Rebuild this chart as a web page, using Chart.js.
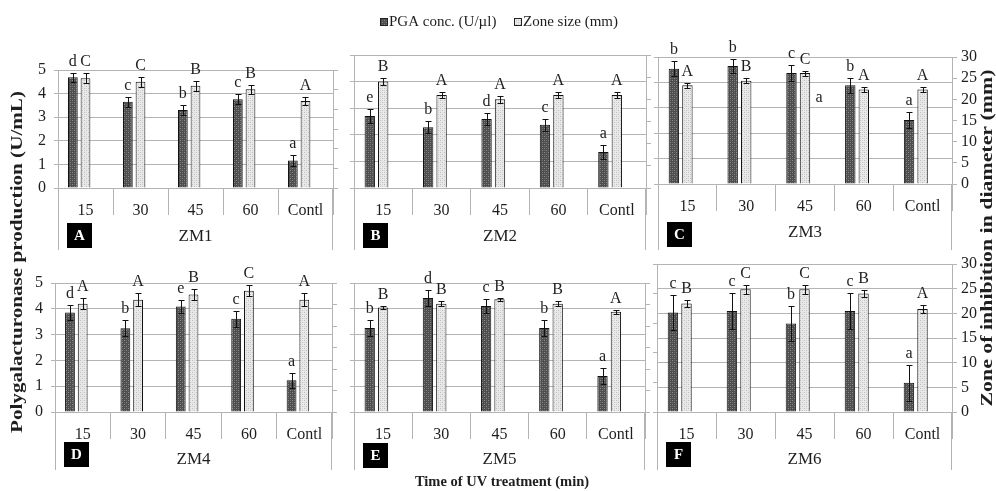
<!DOCTYPE html>
<html>
<head>
<meta charset="utf-8">
<script src="https://cdn.jsdelivr.net/npm/chart.js@4"></script>
<style>
  html, body { margin: 0; padding: 0; background: #fff; }
  #wrap { position: relative; width: 996px; height: 491px; }
  #wrap canvas { position: absolute; left: 0; top: 0; }
</style>
</head>
<body>
<div id="wrap"></div>
<script>
// ---- data (one row per strain ZM1..ZM6) ----
const categories = ['15', '30', '45', '60', 'Contl'];
const panelNames = ['ZM1', 'ZM2', 'ZM3', 'ZM4', 'ZM5', 'ZM6'];
const panelTags = ['A', 'B', 'C', 'D', 'E', 'F'];

// PGA conc. (U/ml), left axis 0-5
const pgaValues = [
  [4.69, 3.65, 3.31, 3.76, 1.17],
  [2.71, 2.28, 2.59, 2.38, 1.35],
  [4.54, 4.65, 4.37, 3.89, 2.52],
  [3.86, 3.25, 4.09, 3.61, 1.23],
  [3.26, 4.42, 4.11, 3.26, 1.40],
  [3.36, 3.41, 2.99, 3.41, 0.99]
];
const pgaErrors = [
  [0.20, 0.22, 0.21, 0.22, 0.24],
  [0.25, 0.23, 0.23, 0.23, 0.25],
  [0.29, 0.29, 0.30, 0.30, 0.30],
  [0.30, 0.30, 0.26, 0.31, 0.30],
  [0.30, 0.30, 0.28, 0.30, 0.31],
  [0.59, 0.60, 0.59, 0.60, 0.61]
];
const pgaLetters = [
  ['d', 'c', 'b', 'c', 'a'],
  ['e', 'b', 'd', 'c', 'a'],
  ['b', 'b', 'c', 'b', 'a'],
  ['d', 'b', 'e', 'c', 'a'],
  ['b', 'd', 'c', 'b', 'a'],
  ['c', 'c', 'b', 'c', 'a']
];

// Zone size (mm), right axis 0-30
const zoneValues = [
  [27.9, 27.0, 26.0, 25.1, 22.1],
  [24.0, 21.0, 20.0, 21.0, 21.0],
  [23.3, 24.4, 26.2, 22.3, 22.3],
  [25.2, 26.1, 27.3, 28.2, 26.1],
  [24.3, 25.2, 26.2, 25.2, 23.3],
  [22.0, 24.9, 24.9, 24.0, 20.9]
];
const zoneErrors = [
  [1.3, 1.2, 1.3, 1.2, 1.1],
  [0.75, 0.75, 0.75, 0.75, 0.75],
  [0.55, 0.55, 0.6, 0.5, 0.5],
  [1.3, 1.5, 1.3, 1.25, 1.5],
  [0.3, 0.5, 0.4, 0.5, 0.5],
  [0.7, 0.9, 0.9, 0.7, 0.8]
];
const zoneLetters = [
  ['C', 'C', 'B', 'B', 'A'],
  ['B', 'A', 'A', 'A', 'A'],
  ['A', 'B', 'C', 'A', 'A'],
  ['A', 'A', 'B', 'C', 'A'],
  ['B', 'B', 'B', 'B', 'A'],
  ['B', 'C', 'C', 'B', 'A']
];
// stray letter in ZM3 next to the 45 group (zone scale)
const strayLetters = [{ panel: 2, index: 2, text: 'a', value: 20.5 }];

// ---- layout ----
const W = 996, H = 491;
const AXIS_W = 40, AXIS_H = 40;
const panels = [
  { l: 58,  r: 333, t: 70,  b: 188, foot: 250, leftLabels: true,  rightLabels: false, grid: 'y',  tagDy: 35 },
  { l: 354, r: 646, t: 55,  b: 188, foot: 250, leftLabels: false, rightLabels: false, grid: 'y',  tagDy: 35 },
  { l: 658, r: 952, t: 57,  b: 184, foot: 250, leftLabels: false, rightLabels: true,  grid: 'y',  tagDy: 38 },
  { l: 55,  r: 332, t: 283, b: 412, foot: 470, leftLabels: true,  rightLabels: false, grid: 'y',  tagDy: 30 },
  { l: 354, r: 645, t: 283, b: 412, foot: 470, leftLabels: false, rightLabels: false, grid: 'y',  tagDy: 31 },
  { l: 657, r: 952, t: 264, b: 412, foot: 470, leftLabels: false, rightLabels: true,  grid: 'y1', tagDy: 30 }
];

const serif = '"Liberation Serif", "Times New Roman", serif';
const gridColor = '#b4b4b4';
const textColor = '#1e1e1e';

function makePattern(base, dot1, dot2) {
  const c = document.createElement('canvas');
  c.width = 4; c.height = 4;
  const g = c.getContext('2d');
  g.fillStyle = base; g.fillRect(0, 0, 4, 4);
  g.fillStyle = dot1; g.fillRect(0, 0, 1, 1); g.fillRect(2, 2, 1, 1);
  g.fillStyle = dot2; g.fillRect(2, 0, 1, 1); g.fillRect(0, 2, 1, 1);
  return g.createPattern(c, 'repeat');
}
const darkFill = makePattern('#4e4e4e', '#8c8c8c', '#6a6a6a');
const lightFill = makePattern('#e9e9e9', '#bdbdbd', '#d6d6d6');

// error bars + significance letters
const errorBars = {
  id: 'errorBars',
  afterDatasetsDraw(chart) {
    const ctx = chart.ctx;
    chart.data.datasets.forEach((ds, di) => {
      if (!ds.errors) return;
      const meta = chart.getDatasetMeta(di);
      const scale = chart.scales[ds.yAxisID];
      meta.data.forEach((bar, k) => {
        const v = ds.data[k], e = ds.errors[k];
        const x = Math.round(bar.x) + 0.5;
        const yHi = Math.round(scale.getPixelForValue(v + e)) + 0.5;
        const yLo = Math.round(scale.getPixelForValue(v - e)) + 0.5;
        ctx.save();
        ctx.strokeStyle = '#111';
        ctx.lineWidth = 1;
        ctx.beginPath();
        ctx.moveTo(x, yHi); ctx.lineTo(x, yLo);
        ctx.moveTo(x - 3, yHi); ctx.lineTo(x + 3, yHi);
        ctx.moveTo(x - 3, yLo); ctx.lineTo(x + 3, yLo);
        ctx.stroke();
        ctx.fillStyle = textColor;
        ctx.font = '16px ' + serif;
        ctx.textAlign = 'center';
        ctx.textBaseline = 'alphabetic';
        ctx.fillText(ds.letters[k], bar.x, yHi - 8);
        ctx.restore();
      });
    });
  }
};

// frame feet, tag box, strain name
const panelDecor = {
  id: 'panelDecor',
  afterDraw(chart, args, opts) {
    const ctx = chart.ctx;
    const a = chart.chartArea;
    const p = panels[opts.index];
    ctx.save();
    ctx.strokeStyle = gridColor;
    ctx.lineWidth = 1;
    ctx.beginPath();
    ctx.moveTo(Math.round(a.left) + 0.5, a.bottom);
    ctx.lineTo(Math.round(a.left) + 0.5, p.foot);
    ctx.moveTo(Math.round(a.right) - 0.5, a.bottom);
    ctx.lineTo(Math.round(a.right) - 0.5, p.foot);
    ctx.stroke();

    const tx = a.left + 9, ty = a.bottom + p.tagDy;
    ctx.fillStyle = '#000';
    ctx.fillRect(tx, ty, 25, 25);
    ctx.fillStyle = '#fff';
    ctx.font = 'bold 15px ' + serif;
    ctx.textAlign = 'center';
    ctx.textBaseline = 'middle';
    ctx.fillText(panelTags[opts.index], tx + 12.5, ty + 13);

    ctx.fillStyle = textColor;
    ctx.font = '17px ' + serif;
    ctx.fillText(panelNames[opts.index], (a.left + a.right) / 2, a.bottom + (p.tagDy > 32 ? 49 : 48));

    strayLetters.filter(s => s.panel === opts.index).forEach(s => {
      const bar = chart.getDatasetMeta(1).data[s.index];
      ctx.textBaseline = 'alphabetic';
      ctx.font = '16px ' + serif;
      ctx.fillText(s.text, bar.x + 14, chart.scales.y1.getPixelForValue(s.value) + 5);
    });
    ctx.restore();
  }
};

// legend and overall axis titles (drawn once)
function stretchedText(ctx, text, cx, cy, angle, length) {
  ctx.save();
  ctx.translate(cx, cy);
  ctx.rotate(angle);
  const w = ctx.measureText(text).width;
  ctx.scale(length / w, 1);
  ctx.fillText(text, 0, 0);
  ctx.restore();
}
const figureText = {
  id: 'figureText',
  afterDraw(chart) {
    const ctx = chart.ctx;
    ctx.save();
    ctx.fillStyle = textColor;
    ctx.textBaseline = 'middle';
    ctx.textAlign = 'left';
    ctx.font = '15px ' + serif;
    const items = [
      { fill: darkFill, text: 'PGA conc. (U/µl)', x: 380 },
      { fill: lightFill, text: 'Zone size (mm)', x: 514 }
    ];
    items.forEach(it => {
      ctx.fillStyle = it.fill;
      ctx.fillRect(it.x, 18, 8, 8);
      ctx.strokeStyle = '#222';
      ctx.strokeRect(it.x + 0.5, 18.5, 7, 7);
      ctx.fillStyle = textColor;
      ctx.fillText(it.text, it.x + 9, 22);
    });

    ctx.textAlign = 'center';
    ctx.font = 'bold 14.5px ' + serif;
    ctx.fillText('Time of UV treatment (min)', 502, 482);

    ctx.font = 'bold 16px ' + serif;
    stretchedText(ctx, 'Polygalacturonase production (U/mL)', 18, 262, -Math.PI / 2, 342);
    stretchedText(ctx, 'Zone of inhibition in diameter (mm)', 988, 238, -Math.PI / 2, 337);
    ctx.restore();
  }
};

const wrap = document.getElementById('wrap');

function buildPanel(i) {
  const p = panels[i];
  const canvas = document.createElement('canvas');
  canvas.width = W; canvas.height = H;
  canvas.style.width = W + 'px'; canvas.style.height = H + 'px';
  wrap.appendChild(canvas);

  const barStyle = { borderColor: '#111', borderWidth: 1, categoryPercentage: 0.69, barPercentage: 0.77 };
  return new Chart(canvas, {
    type: 'bar',
    data: {
      labels: categories,
      datasets: [
        Object.assign({ label: 'PGA conc. (U/µl)', data: pgaValues[i], errors: pgaErrors[i], letters: pgaLetters[i],
          yAxisID: 'y', backgroundColor: darkFill }, barStyle),
        Object.assign({ label: 'Zone size (mm)', data: zoneValues[i], errors: zoneErrors[i], letters: zoneLetters[i],
          yAxisID: 'y1', backgroundColor: lightFill }, barStyle),
        // empty slot: Excel leaves room after the pair, shifting bars left of the category centre
        Object.assign({ label: '', data: [], yAxisID: 'y', backgroundColor: 'rgba(0,0,0,0)' }, barStyle)
      ]
    },
    options: {
      responsive: false,
      animation: false,
      events: [],
      layout: { padding: { left: p.l - AXIS_W, right: W - p.r - AXIS_W, top: p.t, bottom: H - p.b - AXIS_H } },
      plugins: {
        legend: { display: false },
        tooltip: { enabled: false },
        panelDecor: { index: i }
      },
      scales: {
        x: {
          afterFit: s => { s.height = AXIS_H; },
          grid: { offset: true, drawOnChartArea: false, tickLength: 27, color: gridColor },
          border: { color: gridColor },
          ticks: { color: textColor, font: { family: serif, size: 16 }, padding: -14, maxRotation: 0, autoSkip: false }
        },
        y: {
          position: 'left', min: 0, max: 5,
          afterFit: s => { s.width = AXIS_W; },
          ticks: { stepSize: 1, autoSkip: false, display: p.leftLabels, padding: 8, color: textColor, font: { family: serif, size: 16 } },
          grid: { drawOnChartArea: p.grid === 'y', tickLength: 4, color: gridColor },
          border: { color: gridColor }
        },
        y1: {
          position: 'right', min: 0, max: 30,
          afterFit: s => { s.width = AXIS_W; },
          ticks: { stepSize: 5, autoSkip: false, display: p.rightLabels, padding: 4, color: textColor, font: { family: serif, size: 16 } },
          grid: { drawOnChartArea: p.grid === 'y1', tickLength: 5, color: gridColor },
          border: { color: gridColor }
        }
      }
    },
    plugins: i === 0 ? [errorBars, panelDecor, figureText] : [errorBars, panelDecor]
  });
}

panels.forEach((p, i) => buildPanel(i));
</script>
</body>
</html>
